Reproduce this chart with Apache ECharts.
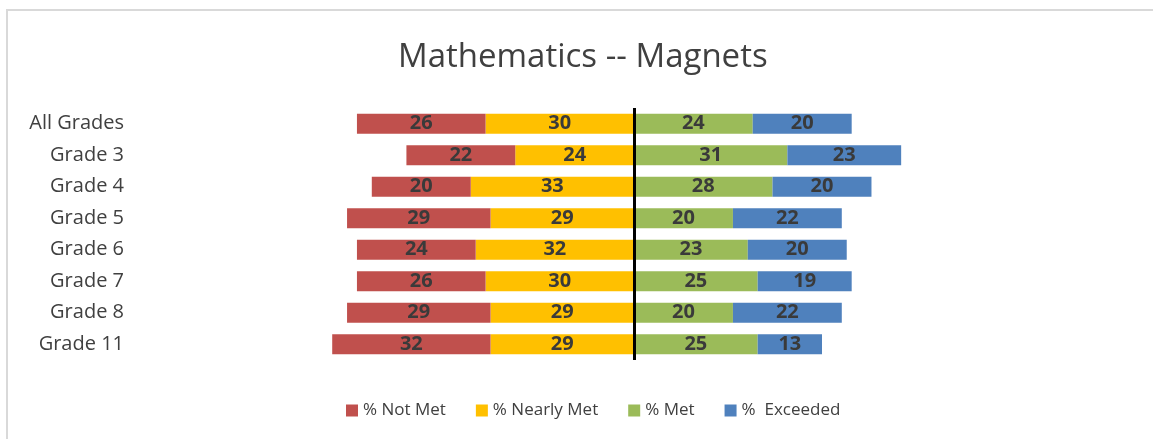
<!DOCTYPE html>
<html>
<head>
<meta charset="utf-8">
<script src="https://cdn.jsdelivr.net/npm/echarts@6/dist/echarts.min.js"></script>
<style>
  html, body { margin: 0; padding: 0; background: #fff; }
  #frame { position: absolute; left: 6px; top: 9px; right: -2px; bottom: -2px; border-top: 2px solid #d9d9d9; border-left: 2px solid #d9d9d9; }
  #main { position: absolute; left: 0; top: 0; width: 1153px; height: 439px; }
</style>
</head>
<body>
<div id="frame"></div>
<div id="main"></div>
<script>
// categories, top to bottom
const grades = ['All Grades', 'Grade 3', 'Grade 4', 'Grade 5', 'Grade 6', 'Grade 7', 'Grade 8', 'Grade 11']
const notMet = [26, 22, 20, 29, 24, 26, 29, 32]
const nearlyMet = [30, 24, 33, 29, 32, 30, 29, 29]
const met = [24, 31, 28, 20, 23, 25, 20, 25]
const exceeded = [20, 23, 20, 22, 20, 19, 22, 13]

const labelStyle = {
  show: true,
  position: 'inside',
  color: '#3a3a3a',
  fontWeight: 'bold',
  fontSize: 20,
  fontFamily: 'Open Sans',
  formatter: p => Math.abs(p.value)
}

function bar (name, values, color, neg) {
  return {
    name: name,
    type: 'bar',
    stack: 'total',
    barWidth: 20,
    data: values.map(v => neg ? -v : v),
    itemStyle: { color: color },
    label: labelStyle
  }
}

let chart = echarts.init(document.getElementById('main'))
let series = [
  // nearly met goes first so it sits next to the centre line
  bar('% Nearly Met', nearlyMet, '#FFC000', true),
  bar('% Not Met', notMet, '#C0504D', true),
  bar('% Met', met, '#9BBB59', false),
  bar('%  Exceeded', exceeded, '#4F81BD', false)
]
series[2].markLine = {
  silent: true,
  symbol: 'none',
  label: { show: false },
  lineStyle: { color: '#000', width: 3, type: 'solid' },
  data: [{ xAxis: 0 }]
}

chart.setOption({
  animation: false,
  title: {
    text: 'Mathematics -- Magnets',
    left: 393,
    top: 36,
    textStyle: { color: '#404040', fontSize: 33, fontWeight: 'normal', fontFamily: 'Open Sans' }
  },
  legend: {
    bottom: 15,
    left: 341,
    itemWidth: 12,
    itemHeight: 12,
    itemGap: 30,
    icon: 'rect',
    data: ['% Not Met', '% Nearly Met', '% Met', '%  Exceeded'],
    textStyle: { color: '#404040', fontSize: 17, fontFamily: 'Open Sans' }
  },
  grid: { left: 164, top: 108, width: 940, height: 252, containLabel: false },
  xAxis: {
    type: 'value',
    min: -95,
    max: 95,
    show: false
  },
  yAxis: {
    type: 'category',
    inverse: true,
    data: grades,
    axisLine: { show: false },
    axisTick: { show: false },
    axisLabel: { color: '#404040', fontSize: 20, fontFamily: 'Open Sans', margin: 40 }
  },
  series: series
})
</script>
</body>
</html>
